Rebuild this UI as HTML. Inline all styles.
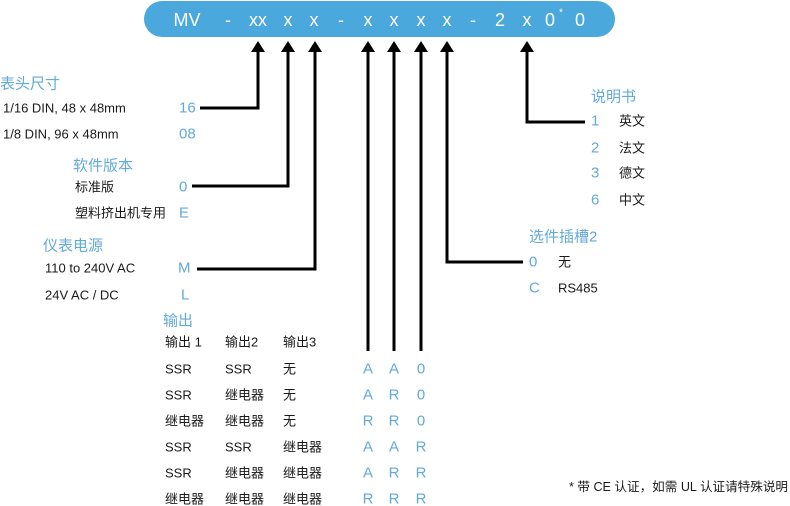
<!DOCTYPE html>
<html>
<head>
<meta charset="utf-8">
<style>
  html, body { margin:0; padding:0; background:#fff; }
  body { width:790px; height:506px; overflow:hidden; }
  svg { display:block; }
  .t { font-family:"Liberation Sans","Noto Sans CJK SC",sans-serif; font-size:13px; fill:#1a1a1a; dominant-baseline:central; }
  .h { font-family:"Liberation Sans","Noto Sans CJK SC",sans-serif; font-size:15px; fill:#62aad8; dominant-baseline:central; }
  .b { font-family:"Liberation Sans","Noto Sans CJK SC",sans-serif; font-size:15px; fill:#62aad8; dominant-baseline:central; }
  .bn { font-family:"Liberation Sans",sans-serif; font-size:18px; fill:#ffffff; dominant-baseline:central; text-anchor:middle; }
  .ln { fill:none; stroke:#000; stroke-width:3; stroke-linejoin:miter; }
</style>
</head>
<body>
<svg width="790" height="506" viewBox="0 0 790 506" xmlns="http://www.w3.org/2000/svg">
  <!-- banner -->
  <rect x="144" y="1" width="471" height="36" rx="18" ry="18" fill="#4aa8dd"/>
  <text class="bn" x="187" y="20">MV</text>
  <text class="bn" x="228" y="20">-</text>
  <text class="bn" x="258" y="20">xx</text>
  <text class="bn" x="288" y="20">x</text>
  <text class="bn" x="314" y="20">x</text>
  <text class="bn" x="341" y="20">-</text>
  <text class="bn" x="368" y="20">x</text>
  <text class="bn" x="394" y="20">x</text>
  <text class="bn" x="421" y="20">x</text>
  <text class="bn" x="447" y="20">x</text>
  <text class="bn" x="473" y="20">-</text>
  <text class="bn" x="500" y="20">2</text>
  <text class="bn" x="527" y="20">x</text>
  <text class="bn" x="550" y="20">0</text>
  <text class="bn" x="561" y="13" style="font-size:10px">*</text>
  <text class="bn" x="580" y="20">0</text>

  <!-- arrowheads -->
  <g fill="#000">
    <polygon points="258,41 251,52 265,52"/>
    <polygon points="288,41 281,52 295,52"/>
    <polygon points="315,41 308,52 322,52"/>
    <polygon points="368,41 361,52 375,52"/>
    <polygon points="394,41 387,52 401,52"/>
    <polygon points="421,41 414,52 428,52"/>
    <polygon points="447,41 440,52 454,52"/>
    <polygon points="527,41 520,52 534,52"/>
  </g>

  <!-- connector lines -->
  <polyline class="ln" points="200,108 258,108 258,51"/>
  <polyline class="ln" points="192,186 288,186 288,51"/>
  <polyline class="ln" points="197,269 315,269 315,51"/>
  <line class="ln" x1="368" y1="51" x2="368" y2="351"/>
  <line class="ln" x1="394" y1="51" x2="394" y2="351"/>
  <line class="ln" x1="421" y1="51" x2="421" y2="351"/>
  <polyline class="ln" points="523,262 447,262 447,51"/>
  <polyline class="ln" points="585,122 527,122 527,51"/>

  <!-- left: 表头尺寸 -->
  <text class="h" x="0" y="84">表头尺寸</text>
  <text class="t" x="3" y="108">1/16 DIN, 48 x 48mm</text>
  <text class="b" x="179" y="108">16</text>
  <text class="t" x="3" y="134">1/8 DIN, 96 x 48mm</text>
  <text class="b" x="179" y="134">08</text>

  <!-- 软件版本 -->
  <text class="h" x="73" y="166">软件版本</text>
  <text class="t" x="75" y="187">标准版</text>
  <text class="b" x="179" y="187">0</text>
  <text class="t" x="75" y="213">塑料挤出机专用</text>
  <text class="b" x="179" y="213">E</text>

  <!-- 仪表电源 -->
  <text class="h" x="43" y="246">仪表电源</text>
  <text class="t" x="45" y="268">110 to 240V AC</text>
  <text class="b" x="178" y="268">M</text>
  <text class="t" x="45" y="295">24V AC / DC</text>
  <text class="b" x="181" y="295">L</text>

  <!-- 说明书 -->
  <text class="h" x="591" y="97">说明书</text>
  <text class="b" x="591" y="121">1</text>
  <text class="t" x="619" y="121">英文</text>
  <text class="b" x="591" y="148">2</text>
  <text class="t" x="619" y="148">法文</text>
  <text class="b" x="591" y="173">3</text>
  <text class="t" x="619" y="173">德文</text>
  <text class="b" x="591" y="200">6</text>
  <text class="t" x="619" y="200">中文</text>

  <!-- 选件插槽2 -->
  <text class="h" x="529" y="237">选件插槽2</text>
  <text class="b" x="529" y="262">0</text>
  <text class="t" x="558" y="262">无</text>
  <text class="b" x="529" y="288">C</text>
  <text class="t" x="558" y="288">RS485</text>

  <!-- 输出 -->
  <text class="h" x="163" y="321">输出</text>
  <text class="t" x="165" y="342">输出 1</text>
  <text class="t" x="225" y="342">输出2</text>
  <text class="t" x="283" y="342">输出3</text>

  <g>
    <text class="t" x="165" y="369">SSR</text>
    <text class="t" x="225" y="369">SSR</text>
    <text class="t" x="283" y="369">无</text>

    <text class="t" x="165" y="395">SSR</text>
    <text class="t" x="225" y="395">继电器</text>
    <text class="t" x="283" y="395">无</text>

    <text class="t" x="165" y="421">继电器</text>
    <text class="t" x="225" y="421">继电器</text>
    <text class="t" x="283" y="421">无</text>

    <text class="t" x="165" y="447">SSR</text>
    <text class="t" x="225" y="447">SSR</text>
    <text class="t" x="283" y="447">继电器</text>

    <text class="t" x="165" y="473">SSR</text>
    <text class="t" x="225" y="473">继电器</text>
    <text class="t" x="283" y="473">继电器</text>

    <text class="t" x="165" y="499">继电器</text>
    <text class="t" x="225" y="499">继电器</text>
    <text class="t" x="283" y="499">继电器</text>
  </g>

  <g>
    <text class="b" x="368" y="369" text-anchor="middle">A</text>
    <text class="b" x="394" y="369" text-anchor="middle">A</text>
    <text class="b" x="421" y="369" text-anchor="middle">0</text>

    <text class="b" x="368" y="395" text-anchor="middle">A</text>
    <text class="b" x="394" y="395" text-anchor="middle">R</text>
    <text class="b" x="421" y="395" text-anchor="middle">0</text>

    <text class="b" x="368" y="421" text-anchor="middle">R</text>
    <text class="b" x="394" y="421" text-anchor="middle">R</text>
    <text class="b" x="421" y="421" text-anchor="middle">0</text>

    <text class="b" x="368" y="447" text-anchor="middle">A</text>
    <text class="b" x="394" y="447" text-anchor="middle">A</text>
    <text class="b" x="421" y="447" text-anchor="middle">R</text>

    <text class="b" x="368" y="473" text-anchor="middle">A</text>
    <text class="b" x="394" y="473" text-anchor="middle">R</text>
    <text class="b" x="421" y="473" text-anchor="middle">R</text>

    <text class="b" x="368" y="499" text-anchor="middle">R</text>
    <text class="b" x="394" y="499" text-anchor="middle">R</text>
    <text class="b" x="421" y="499" text-anchor="middle">R</text>
  </g>

  <!-- footnote -->
  <text class="t" x="569" y="487" style="font-size:12.5px" textLength="219" lengthAdjust="spacingAndGlyphs">* 带 CE 认证，如需 UL 认证请特殊说明</text>
</svg>
</body>
</html>
